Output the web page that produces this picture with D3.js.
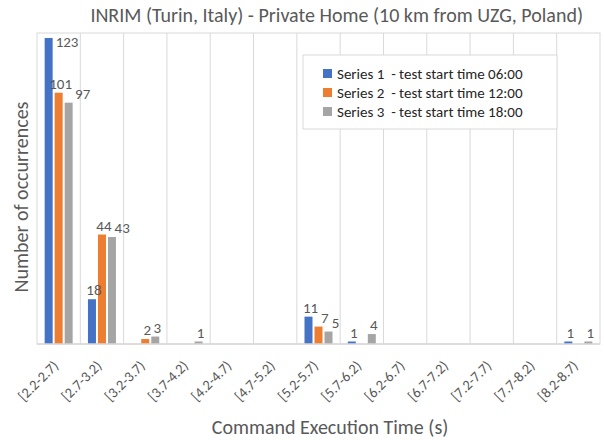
<!DOCTYPE html>
<html>
<head>
<meta charset="utf-8">
<script src="https://cdn.jsdelivr.net/npm/d3@7"></script>
<style>
  body { margin: 0; background: #fff; }
  text { font-family: Carlito, Lato, "Open Sans", sans-serif; fill: #595959; }
</style>
</head>
<body>
<svg id="chart" width="604" height="440"></svg>
<script>
const categories = ["[2.2-2.7)", "[2.7-3.2)", "[3.2-3.7)", "[3.7-4.2)", "[4.2-4.7)", "[4.7-5.2)",
    "[5.2-5.7)", "[5.7-6.2)", "[6.2-6.7)", "[6.7-7.2)", "[7.2-7.7)", "[7.7-8.2)", "[8.2-8.7)"];
const seriesNames = ["Series 1  - test start time 06:00", "Series 2  - test start time 12:00", "Series 3  - test start time 18:00"];
const series1 = [123, 18, 0, 0, 0, 0, 11, 1, 0, 0, 0, 0, 1];
const series2 = [101, 44, 2, 0, 0, 0, 7, 0, 0, 0, 0, 0, 0];
const series3 = [97, 43, 3, 1, 0, 0, 5, 4, 0, 0, 0, 0, 1];
const colors = ["#4472C4", "#ED7D31", "#A5A5A5"];

const allSeries = [series1, series2, series3];

const svg = d3.select("#chart");
const margin = { top: 33, right: 4, bottom: 96, left: 37 };
const width = 604 - margin.left - margin.right;
const height = 440 - margin.top - margin.bottom;

const x = d3.scaleBand().domain(categories).range([0, width]);
const xInner = d3.scaleBand().domain(d3.range(3)).range([0, 28]).paddingInner(0.2);
const y = d3.scaleLinear().domain([0, 125]).range([height, 0]);

const g = svg.append("g").attr("transform", `translate(${margin.left},${margin.top})`);

// plot border + category separators
g.append("rect")
    .attr("width", width).attr("height", height)
    .style("fill", "none").style("stroke", "#d9d9d9").style("stroke-width", 1);
categories.forEach((c, i) => {
    if (i === 0) return;
    g.append("line")
        .attr("x1", x(c)).attr("x2", x(c))
        .attr("y1", 0).attr("y2", height)
        .style("stroke", "#d9d9d9");
});

const barX = (s, i) => x(categories[i]) + (x.bandwidth() - 28) / 2 + xInner(s);

// bars
allSeries.forEach((vals, s) => {
    vals.forEach((v, i) => {
        if (v === 0) return;
        g.append("rect")
            .attr("x", barX(s, i))
            .attr("y", y(v))
            .attr("width", xInner.bandwidth())
            .attr("height", height - y(v))
            .style("fill", colors[s]);
    });
});

// data labels: above the bar, pushed right when they would collide
categories.forEach((c, i) => {
    let prev = null;
    allSeries.forEach((vals, s) => {
        const v = vals[i];
        if (v === 0) return;
        const cx = barX(s, i) + xInner.bandwidth() / 2;
        const t = g.append("text")
            .style("font-size", "15px")
            .text(v);
        const w = t.node().getComputedTextLength();
        let left, base;
        if (y(v) < 16) {
            left = barX(s, i) + xInner.bandwidth() + 3;
            base = y(v) + 9;
        } else {
            left = cx - w / 2 + 2;
            base = y(v) - 4;
        }
        if (prev && left < prev.right + 2 && base > prev.base - 12 && base - 12 < prev.base) {
            left = prev.right + 3;
        }
        t.attr("x", left).attr("y", base);
        prev = { right: left + w, base: base };
    });
});

// x axis line
g.append("line")
    .attr("x1", 0).attr("x2", width)
    .attr("y1", height).attr("y2", height)
    .style("stroke", "#d9d9d9").style("stroke-width", 1.5);

// tick labels
categories.forEach(c => {
    const cx = x(c) + x.bandwidth() / 2;
    g.append("text")
        .attr("transform", `translate(${cx - 3},${height + 19}) rotate(-45)`)
        .attr("text-anchor", "end")
        .attr("dy", "0.35em")
        .style("font-size", "14.5px")
        .text(c);
});

// titles
svg.append("text")
    .attr("x", 583).attr("y", 22)
    .attr("text-anchor", "end")
    .style("font-size", "20px")
    .text("INRIM (Turin, Italy) - Private Home (10 km from UZG, Poland)");

svg.append("text")
    .attr("x", 330).attr("y", 434)
    .attr("text-anchor", "middle")
    .style("font-size", "20px")
    .text("Command Execution Time (s)");

svg.append("text")
    .attr("transform", `translate(28,197) rotate(-90)`)
    .attr("text-anchor", "middle")
    .style("font-size", "20px")
    .text("Number of occurrences");

// legend
const legend = svg.append("g").attr("transform", "translate(303,55)");
legend.append("rect")
    .attr("width", 254).attr("height", 74)
    .style("fill", "#fff").style("stroke", "#d9d9d9");
seriesNames.forEach((n, i) => {
    legend.append("rect")
        .attr("x", 20).attr("y", 14 + i * 19)
        .attr("width", 9).attr("height", 9)
        .style("fill", colors[i]);
    legend.append("text")
        .attr("x", 34).attr("y", 18.5 + i * 19)
        .attr("dy", "0.35em")
        .style("font-size", "15px")
        .style("white-space", "pre")
        .style("fill", "#262626")
        .text(n);
});
</script>
</body>
</html>
